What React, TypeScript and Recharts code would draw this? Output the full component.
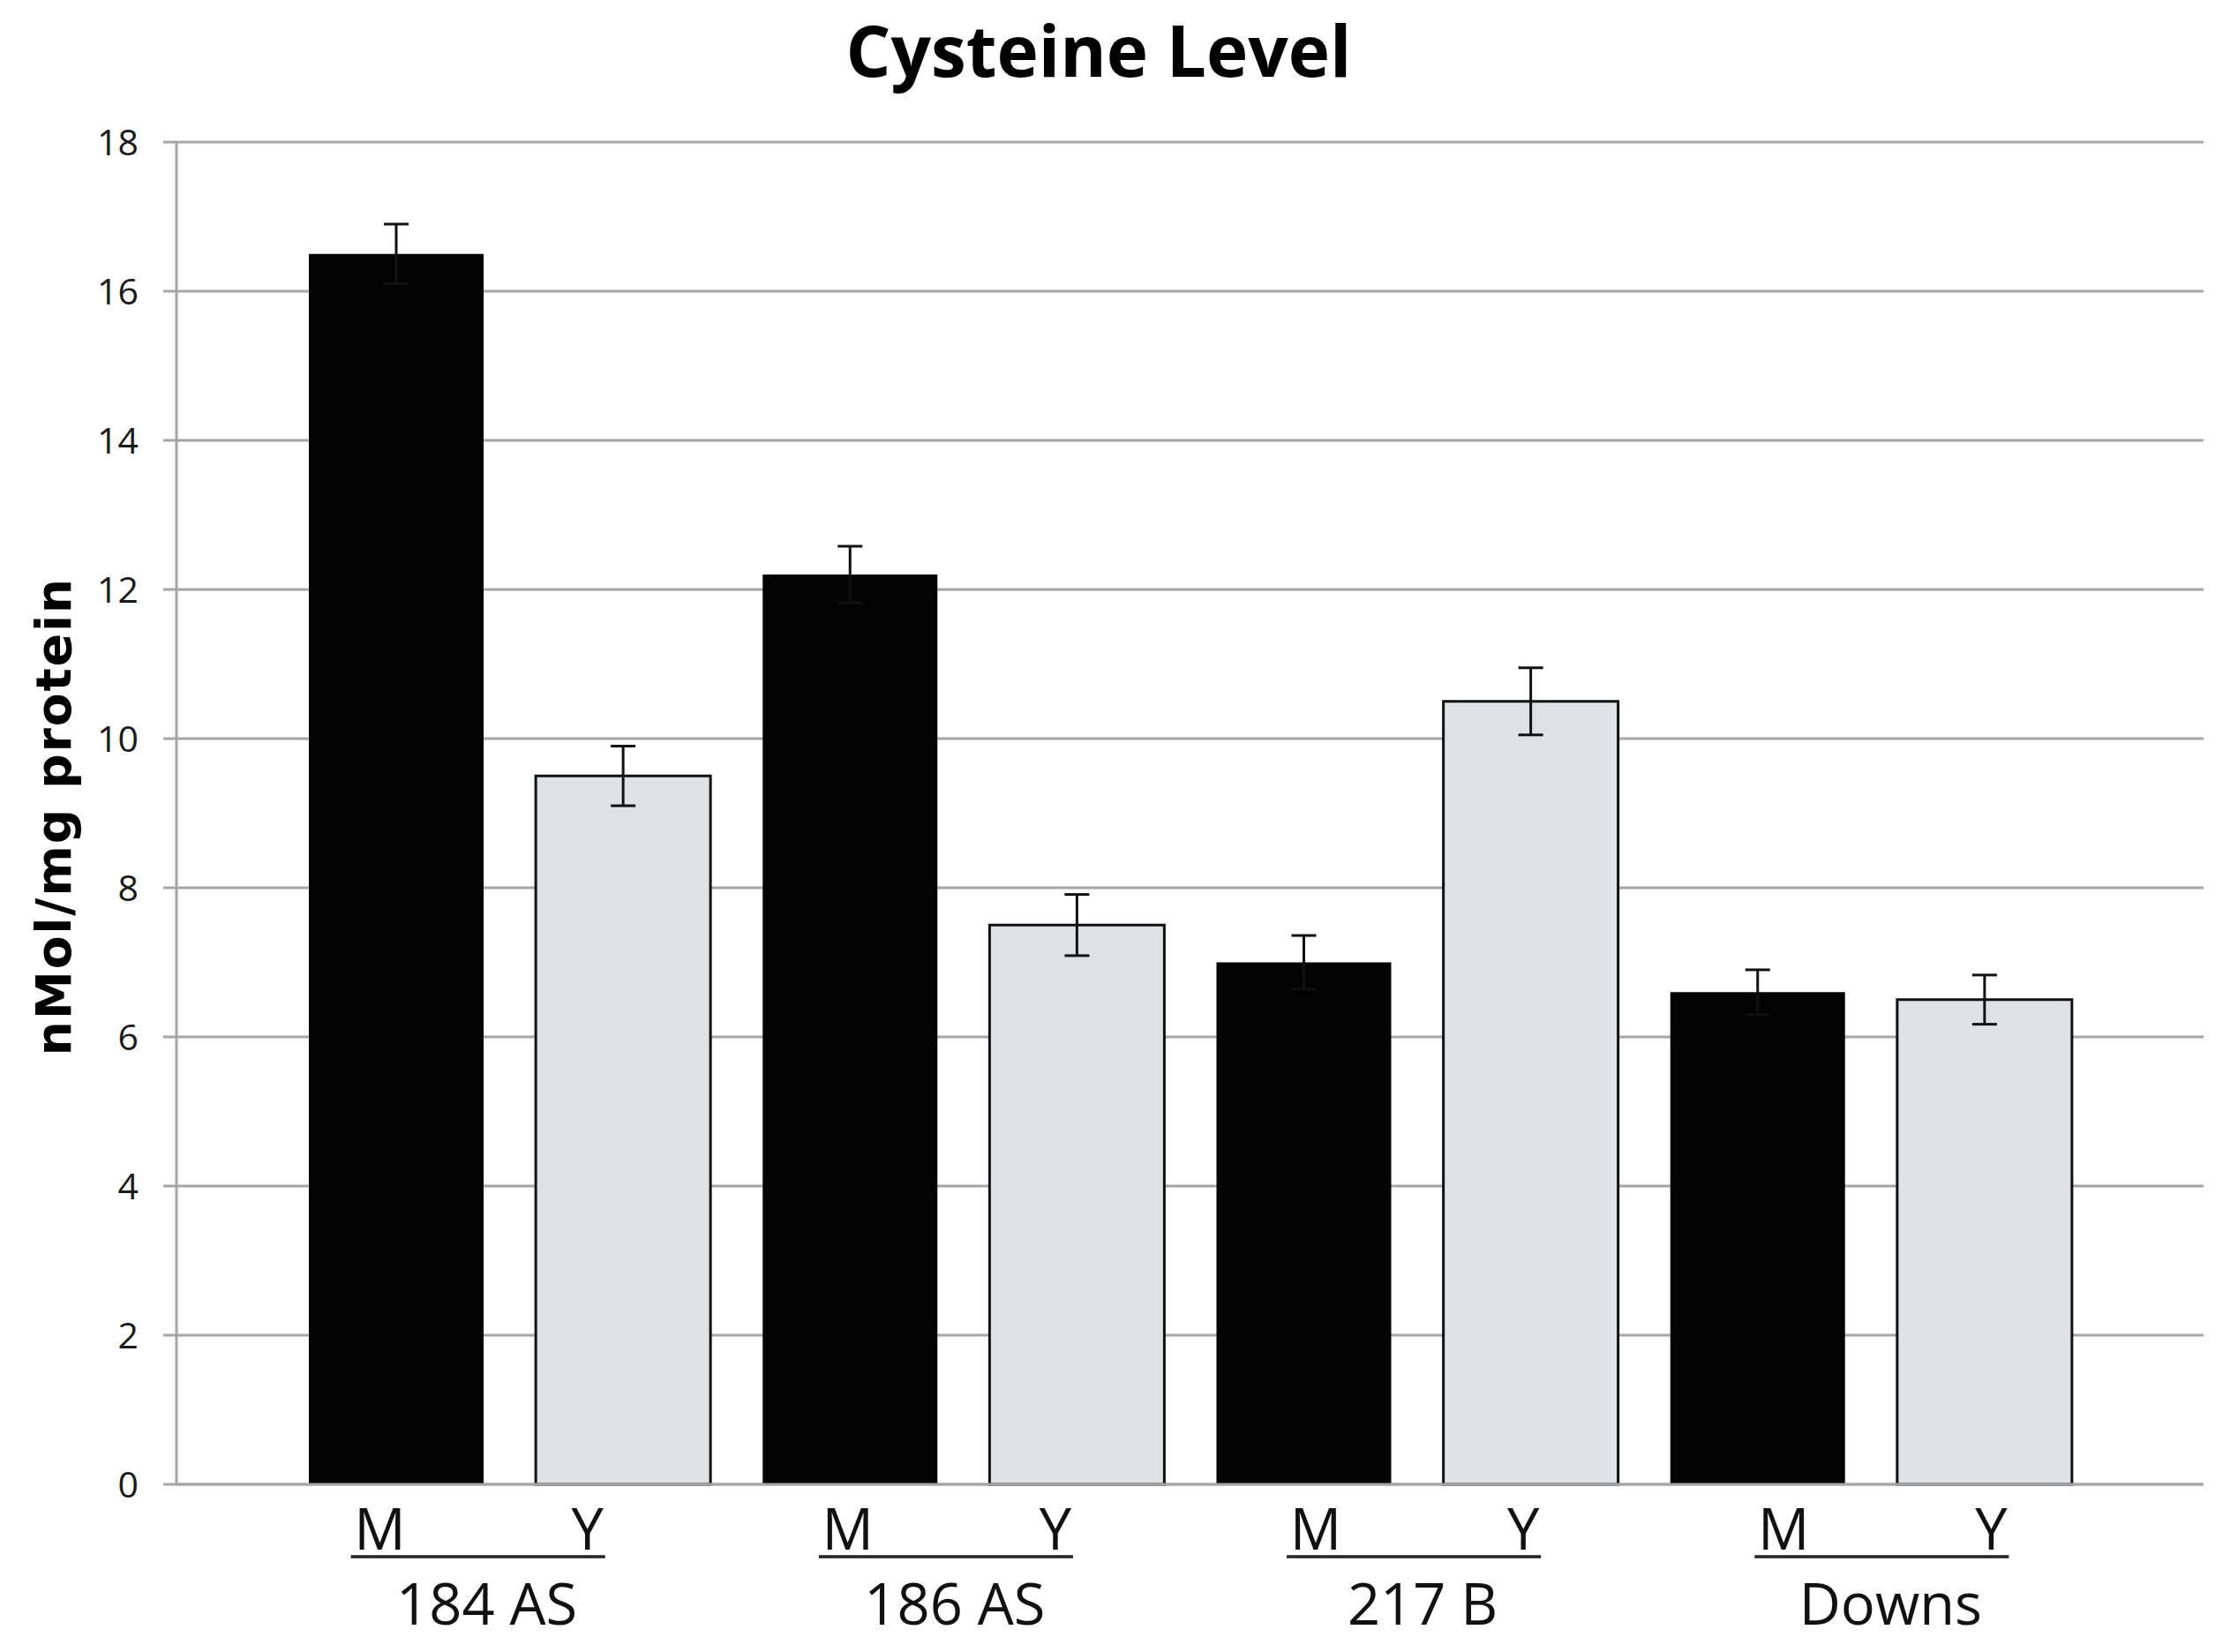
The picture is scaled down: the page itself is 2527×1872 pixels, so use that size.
import React from "react";
import { BarChart, Bar, Cell, ErrorBar, XAxis, YAxis, CartesianGrid } from "recharts";

// Data
const GROUPS = ["184 AS", "186 AS", "217 B", "Downs"];
const M_VALUES = [16.5, 12.2, 7.0, 6.6];
const M_ERRORS = [0.4, 0.38, 0.36, 0.3];
const Y_VALUES = [9.5, 7.5, 10.5, 6.5];
const Y_ERRORS = [0.4, 0.41, 0.45, 0.33];
const Y_TICKS = [0, 2, 4, 6, 8, 10, 12, 14, 16, 18];

type Row = { key: string; group: string; sub: "M" | "Y"; value: number; err: number };

const data: Row[] = GROUPS.flatMap((group, i) => [
  { key: `${group}-M`, group, sub: "M" as const, value: M_VALUES[i], err: M_ERRORS[i] },
  { key: `${group}-Y`, group, sub: "Y" as const, value: Y_VALUES[i], err: Y_ERRORS[i] },
]);

// Layout
const W = 2527;
const H = 1872;
const PLOT_LEFT = 200;
const PLOT_RIGHT = 2497;
const PLOT_TOP = 161;
const PLOT_BOTTOM = 1682;
const Y_AXIS_W = 120;
const X_AXIS_H = 150;
const PAD = 120;
const BAND = (PLOT_RIGHT - PLOT_LEFT - 2 * PAD) / data.length;

const GRID = "#a6a6a6";
const LIGHT = "#dfe2e4";
const FONT = "'Open Sans', 'Noto Sans', sans-serif";

function GroupTick(props: any) {
  const { x, index } = props;
  const row = data[index];
  if (!row) return null;
  const g = Math.floor(index / 2);
  const nudge = -18 + 16 * g; // labels in the original are hand placed, slightly spread out
  const letterStyle = { fontFamily: FONT, fontSize: 65, fill: "#111" };
  if (row.sub === "M") {
    const mx = x + nudge;
    const yx = x + BAND + nudge - 22;
    const x1 = mx - 33;
    const x2 = yx + 20;
    return (
      <g>
        <text x={mx} y={1756} textAnchor="middle" style={letterStyle}>M</text>
        <line x1={x1} x2={x2} y1={1764} y2={1764} stroke="#222" strokeWidth={3.5} />
        <text x={(x1 + x2) / 2 + 10} y={1841} textAnchor="middle" style={letterStyle}>
          {row.group}
        </text>
      </g>
    );
  }
  return (
    <text x={x + nudge - 22} y={1756} textAnchor="middle" style={letterStyle}>Y</text>
  );
}

export default function App() {
  return (
    <div style={{ position: "absolute", left: 0, top: 0, width: W, height: H, background: "#fff" }}>
      <BarChart
        width={W}
        height={H}
        data={data}
        margin={{
          top: PLOT_TOP,
          right: W - PLOT_RIGHT,
          bottom: H - PLOT_BOTTOM - X_AXIS_H,
          left: PLOT_LEFT - Y_AXIS_W,
        }}
      >
        <CartesianGrid vertical={false} stroke={GRID} strokeWidth={3} />
        <XAxis
          dataKey="key"
          interval={0}
          height={X_AXIS_H}
          padding={{ left: PAD, right: PAD }}
          axisLine={{ stroke: GRID, strokeWidth: 3 }}
          tickLine={false}
          tick={<GroupTick />}
        />
        <YAxis
          width={Y_AXIS_W}
          domain={[0, 18]}
          ticks={Y_TICKS}
          interval={0}
          axisLine={{ stroke: GRID, strokeWidth: 3 }}
          tickLine={{ stroke: GRID, strokeWidth: 3 }}
          tickSize={15}
          tickMargin={28}
          tick={{ fontFamily: FONT, fontSize: 41, fill: "#1a1a1a" }}
        />
        <Bar dataKey="value" barSize={198} isAnimationActive={false}>
          {data.map((d) => (
            <Cell
              key={d.key}
              fill={d.sub === "M" ? "#030303" : LIGHT}
              stroke="#111"
              strokeWidth={d.sub === "M" ? 0 : 3}
            />
          ))}
          <ErrorBar
            dataKey="err"
            direction="y"
            width={14}
            stroke="#111"
            strokeWidth={3}
            isAnimationActive={false}
          />
        </Bar>
      </BarChart>
      <svg
        width={W}
        height={H}
        style={{ position: "absolute", left: 0, top: 0, pointerEvents: "none" }}
      >
        <text
          x={1245}
          y={87}
          textAnchor="middle"
          style={{ fontFamily: FONT, fontWeight: 700, fontSize: 80, fill: "#000" }}
        >
          Cysteine Level
        </text>
        <text
          x={80}
          y={925}
          textAnchor="middle"
          transform="rotate(-90, 80, 925)"
          style={{
            fontFamily: "'DejaVu Sans', Verdana, sans-serif",
            fontWeight: 700,
            fontSize: 55,
            letterSpacing: 2,
            fill: "#000",
          }}
        >
          nMol/mg protein
        </text>
      </svg>
    </div>
  );
}
